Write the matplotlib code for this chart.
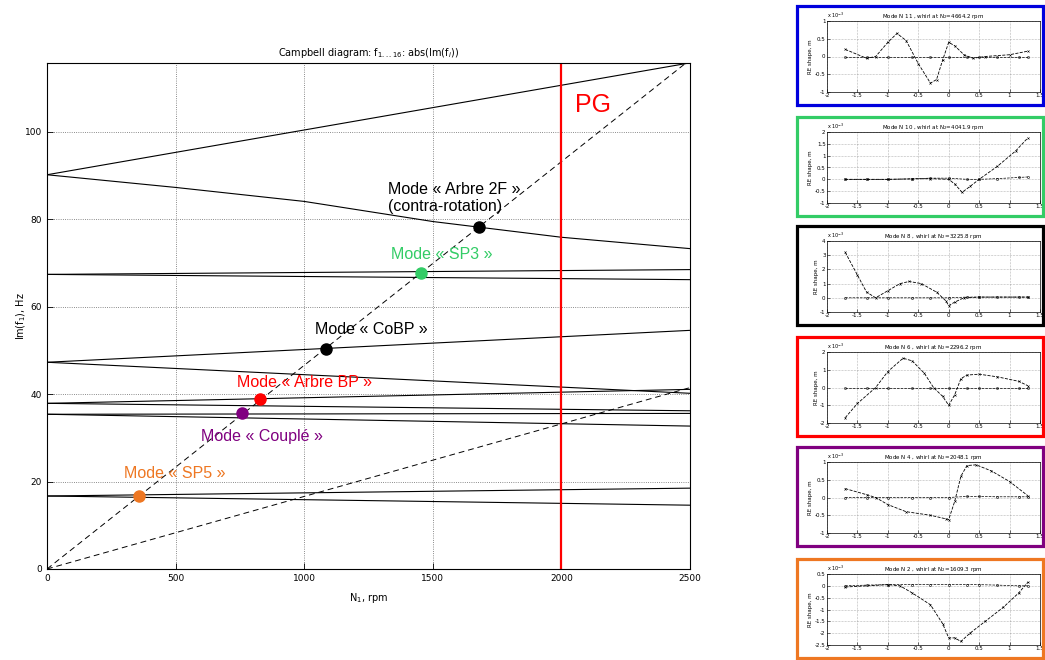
import matplotlib
matplotlib.use('Agg')
import matplotlib.pyplot as plt
from matplotlib.patches import Rectangle
import numpy as np

# Campbell diagram lines (rpm, Hz)
line_rpm = [0, 2500]
lines_hz = [
    [90.2, 115.8],
    [67.4, 68.5],
    [67.4, 66.2],
    [47.3, 54.6],
    [47.3, 40.2],
    [37.9, 41.1],
    [37.9, 36.2],
    [35.4, 35.6],
    [35.4, 32.7],
    [16.7, 18.5],
    [16.7, 14.6],
]
# the one visibly curved branch, read at each grid line
curved_rpm = [0, 500, 1000, 1500, 2000, 2500]
curved_hz = [90.2, 87.3, 84.1, 79.5, 75.9, 73.3]

# excitation lines
excit_rpm = [0, 2500]
excit_hz = [[0, 116.5], [0, 41.5]]

pg_rpm = 2000

mode_labels = ['Mode « Arbre 2F »\n(contra-rotation)', 'Mode « SP3 »', 'Mode « CoBP »',
               'Mode « Arbre BP »', 'Mode « Couplé »', 'Mode « SP5 »']
mode_rpm = [1680, 1454, 1083, 830, 757, 358]
mode_hz = [78.3, 67.8, 50.4, 39.0, 35.6, 16.7]
mode_colors = ['black', '#33cc66', 'black', '#ff0000', '#800080', '#ee7722']
label_rpm = [1326, 1337, 1042, 739, 599, 299]
label_hz = [84.9, 71.9, 54.8, 42.7, 30.4, 21.9]

# mode shapes shown on the right (x 1e-3)
panel_titles = ['Mode N 11 , whirl at N$_2$=4664.2 rpm',
                'Mode N 10 , whirl at N$_2$=4041.9 rpm',
                'Mode N 8 , whirl at N$_2$=3225.8 rpm',
                'Mode N 6 , whirl at N$_2$=2296.2 rpm',
                'Mode N 4 , whirl at N$_2$=2048.1 rpm',
                'Mode N 2 , whirl at N$_2$=1609.3 rpm']
panel_colors = ['#0000dd', '#33cc66', 'black', '#ff0000', '#800080', '#ee7722']
panel_ylims = [(-1, 1), (-1, 2), (-1, 4), (-2, 2), (-1, 1), (-2.5, 0.5)]
panel_yticks = [[-1, -0.5, 0, 0.5, 1],
                [-1, -0.5, 0, 0.5, 1, 1.5, 2],
                [-1, 0, 1, 2, 3, 4],
                [-2, -1, 0, 1, 2],
                [-1, -0.5, 0, 0.5, 1],
                [-2.5, -2, -1.5, -1, -0.5, 0, 0.5]]

shape_x = [
    [-1.7, -1.35, -1.2, -1.0, -0.85, -0.7, -0.5, -0.3, -0.2, -0.1, 0.0, 0.1, 0.25, 0.4, 0.6, 1.0, 1.3],
    [-1.7, -1.35, -1.0, -0.6, -0.3, 0.0, 0.1, 0.22, 0.35, 0.5, 0.8, 1.1, 1.3],
    [-1.7, -1.5, -1.35, -1.2, -1.0, -0.8, -0.65, -0.45, -0.2, -0.05, 0.0, 0.1, 0.25, 0.5, 1.3],
    [-1.7, -1.5, -1.2, -1.0, -0.75, -0.6, -0.4, -0.25, -0.1, 0.0, 0.1, 0.2, 0.3, 0.5, 0.8, 1.15, 1.3],
    [-1.7, -1.35, -1.2, -1.0, -0.7, -0.3, -0.05, 0.0, 0.1, 0.2, 0.3, 0.45, 0.7, 1.0, 1.3],
    [-1.7, -1.0, -0.8, -0.6, -0.3, -0.1, 0.0, 0.1, 0.2, 0.35, 0.6, 0.9, 1.15, 1.3],
]
shape_y = [
    [0.2, -0.05, 0.0, 0.4, 0.65, 0.45, -0.2, -0.75, -0.65, -0.1, 0.4, 0.3, 0.05, -0.05, 0.0, 0.05, 0.15],
    [0.0, 0.0, 0.0, 0.02, 0.03, 0.0, -0.2, -0.55, -0.3, 0.0, 0.55, 1.2, 1.75],
    [3.2, 1.6, 0.4, 0.0, 0.5, 1.0, 1.15, 1.0, 0.4, -0.2, -0.55, -0.3, 0.0, 0.05, 0.05],
    [-1.7, -0.9, 0.0, 0.9, 1.65, 1.5, 0.8, 0.0, -0.5, -1.0, -0.4, 0.5, 0.7, 0.75, 0.6, 0.35, 0.1],
    [0.25, 0.08, 0.0, -0.2, -0.4, -0.5, -0.6, -0.62, -0.1, 0.6, 0.9, 0.92, 0.75, 0.45, 0.05],
    [-0.05, 0.05, 0.0, -0.3, -0.8, -1.6, -2.2, -2.2, -2.35, -2.0, -1.5, -0.9, -0.3, 0.15],
]
flat_x = [-1.7, -1.35, -1.0, -0.6, -0.3, 0.0, 0.3, 0.5, 0.8, 1.15, 1.3]
flat_y = [
    [0, 0, 0, 0, 0, 0, 0, 0, 0, 0, 0],
    [0, 0, 0, 0.02, 0.05, 0.05, 0, 0, 0.03, 0.08, 0.1],
    [0, 0, 0, 0, 0, 0, 0.05, 0.05, 0.05, 0.05, 0.05],
    [0, 0, 0, 0, 0, 0, 0, 0, 0, 0, 0],
    [0, 0, 0, 0, 0, 0, 0.03, 0.03, 0.02, 0.02, 0.02],
    [0, 0.03, 0.05, 0.05, 0.05, 0.05, 0.05, 0.05, 0.03, 0, 0],
]

W, H = 1045, 660
fig = plt.figure(figsize=(W / 100, H / 100), dpi=100)

ax = fig.add_axes([47 / W, 1 - 569 / H, 643 / W, (569 - 63.3) / H])
for hz in lines_hz:
    ax.plot(line_rpm, hz, color='black', lw=0.8)
ax.plot(curved_rpm, curved_hz, color='black', lw=0.8)
for hz in excit_hz:
    ax.plot(excit_rpm, hz, color='black', lw=0.7, ls=(0, (6, 4)))
ax.axvline(pg_rpm, color='#ff0000', lw=1.6)
ax.text(2053, 106.2, 'PG', color='#ff0000', fontsize=18, va='center', ha='left',
        family='Liberation Sans')

for lab, r, h, c, lr, lh in zip(mode_labels, mode_rpm, mode_hz, mode_colors, label_rpm, label_hz):
    ax.plot(r, h, 'o', color=c, markersize=8, zorder=5)
    ax.text(lr, lh, lab, color=c, fontsize=11.5, va='center', ha='left',
            family='Liberation Sans', linespacing=1.15)

ax.set_xlim(0, 2500)
ax.set_ylim(0, 115.7)
ax.set_xticks([0, 500, 1000, 1500, 2000, 2500])
ax.set_yticks([0, 20, 40, 60, 80, 100])
ax.tick_params(direction='in', labelsize=6.5, length=4, width=0.6)
ax.grid(True, ls=':', lw=0.6, color='#666666')
for s in ax.spines.values():
    s.set_linewidth(0.8)
ax.set_title('Campbell diagram: f$_{1...16}$: abs(Im(f$_i$))', fontsize=7, pad=5)
ax.set_xlabel('N$_1$, rpm', fontsize=7, labelpad=6)
ax.set_ylabel('Im(f$_1$), Hz', fontsize=7)
ax.yaxis.set_label_coords(-0.03, 0.5)

# right-hand mode shape panels
box_tops = [6, 117, 226, 337, 447, 559]
for i, top in enumerate(box_tops):
    fig.patches.append(Rectangle((797 / W, 1 - (top + 99) / H), 246 / W, 99 / H,
                                 transform=fig.transFigure, fill=False,
                                 edgecolor=panel_colors[i], lw=2.3))
    pax = fig.add_axes([827 / W, 1 - (top + 86) / H, 213 / W, 71 / H])
    pax.plot(flat_x, flat_y[i], color='black', lw=0.5, ls='--', marker='o',
             markersize=1.5, markerfacecolor='none', markeredgewidth=0.4)
    pax.plot(shape_x[i], shape_y[i], color='black', lw=0.6, ls='--', marker='x',
             markersize=1.5, markeredgewidth=0.4)
    pax.set_xlim(-2, 1.5)
    pax.set_ylim(*panel_ylims[i])
    pax.set_xticks([-2, -1.5, -1, -0.5, 0, 0.5, 1, 1.5])
    pax.set_xticklabels(['-2', '-1.5', '-1', '-0.5', '0', '0.5', '1', '1.5'])
    pax.set_yticks(panel_yticks[i])
    pax.set_yticklabels(['%g' % v for v in panel_yticks[i]])
    pax.tick_params(direction='in', labelsize=4, length=2, width=0.4, pad=1)
    pax.grid(True, ls=':', lw=0.4, color='#777777')
    for s in pax.spines.values():
        s.set_linewidth(0.5)
    pax.set_title(panel_titles[i], fontsize=4, pad=2)
    pax.set_ylabel('RE shape, m', fontsize=4, labelpad=1)
    pax.text(0.0, 1.01, 'x 10$^{-3}$', transform=pax.transAxes, fontsize=3.5,
             va='bottom', ha='left')

fig.savefig('out.png', dpi=100)
